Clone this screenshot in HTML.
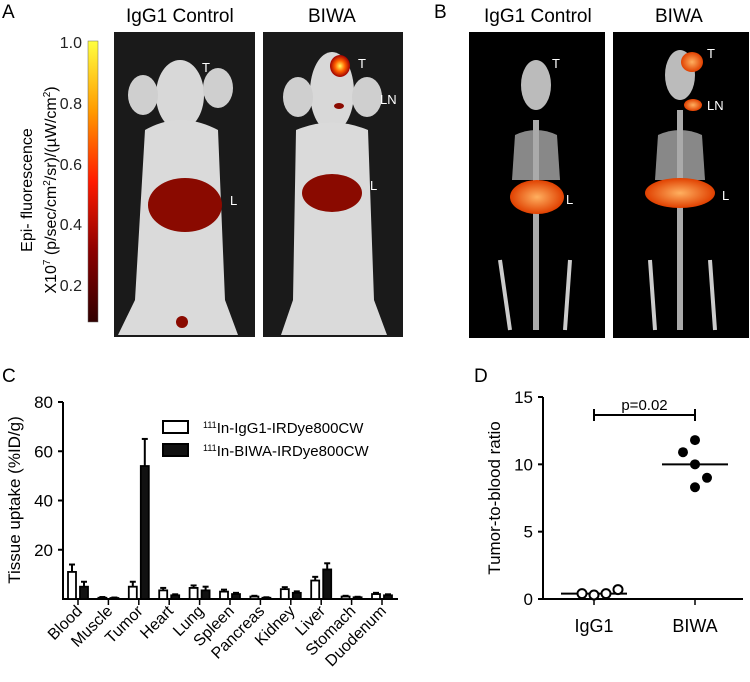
<!DOCTYPE html>
<html><head><meta charset="utf-8"><style>
body{margin:0;background:#fff;}
svg{display:block;font-family:"Liberation Sans",sans-serif;}
</style></head><body>
<svg width="750" height="682" viewBox="0 0 750 682">
<defs>
<linearGradient id="cb" x1="0" y1="0" x2="0" y2="1">
<stop offset="0" stop-color="#ffff40"/><stop offset="0.25" stop-color="#ff9a00"/><stop offset="0.5" stop-color="#ff1a00"/><stop offset="0.75" stop-color="#8a0000"/><stop offset="1" stop-color="#300000"/></linearGradient>
<radialGradient id="hot"><stop offset="0" stop-color="#ffff60"/><stop offset="0.5" stop-color="#ff6000"/><stop offset="1" stop-color="#a00000"/></radialGradient>
<radialGradient id="org"><stop offset="0" stop-color="#ffb060"/><stop offset="1" stop-color="#e04000"/></radialGradient>
</defs>
<!-- Panel A -->
<text x="2" y="18" font-size="19">A</text>
<text x="126" y="22" font-size="19">IgG1 Control</text>
<text x="308" y="22" font-size="19">BIWA</text>
<rect x="88" y="41" width="10" height="281" fill="url(#cb)" stroke="#666" stroke-width="0.5"/>
<g font-size="16" fill="#222" text-anchor="end">
<text x="82" y="48">1.0</text><text x="82" y="109">0.8</text><text x="82" y="170">0.6</text><text x="82" y="230">0.4</text><text x="82" y="291">0.2</text></g>
<text transform="translate(32,190) rotate(-90)" font-size="16" text-anchor="middle">Epi- fluorescence</text>
<text transform="translate(56,190) rotate(-90)" font-size="16" text-anchor="middle">X10<tspan font-size="10" dy="-6">7</tspan><tspan dy="6"> (p/sec/cm</tspan><tspan font-size="10" dy="-6">2</tspan><tspan dy="6">/sr)/(µW/cm</tspan><tspan font-size="10" dy="-6">2</tspan><tspan dy="6">)</tspan></text>
<g>
<rect x="114" y="32" width="141" height="305" fill="#1a1a1a"/>
<ellipse cx="180" cy="95" rx="24" ry="35" fill="#d8d8d8"/>
<ellipse cx="143" cy="95" rx="15" ry="20" fill="#cfcfcf"/><ellipse cx="218" cy="88" rx="15" ry="20" fill="#cfcfcf"/>
<path d="M145 130 Q180 110 218 130 L225 300 L238 335 L118 335 L135 300 Z" fill="#dadada"/>
<ellipse cx="185" cy="205" rx="37" ry="27" fill="#8a0a00"/>
<ellipse cx="182" cy="322" rx="6" ry="6" fill="#8a0a00"/>
<text x="202" y="72" font-size="13" fill="#fff">T</text><text x="230" y="205" font-size="13" fill="#fff">L</text></g>
<g>
<rect x="263" y="32" width="140" height="305" fill="#1a1a1a"/>
<ellipse cx="332" cy="92" rx="22" ry="40" fill="#d8d8d8"/>
<ellipse cx="298" cy="97" rx="15" ry="20" fill="#cfcfcf"/><ellipse cx="367" cy="97" rx="15" ry="20" fill="#cfcfcf"/>
<path d="M296 130 Q332 115 368 130 L374 300 L387 335 L281 335 L293 300 Z" fill="#dadada"/>
<ellipse cx="340" cy="66" rx="10" ry="11" fill="url(#hot)"/>
<ellipse cx="339" cy="106" rx="5" ry="3" fill="#8a0a00"/>
<ellipse cx="332" cy="193" rx="30" ry="19" fill="#8a0a00"/>
<text x="358" y="68" font-size="13" fill="#fff">T</text><text x="380" y="104" font-size="13" fill="#fff">LN</text><text x="370" y="190" font-size="13" fill="#fff">L</text></g>
<!-- Panel B -->
<text x="434" y="18" font-size="19">B</text>
<text x="484" y="22" font-size="19">IgG1 Control</text>
<text x="655" y="22" font-size="19">BIWA</text>
<g>
<rect x="469" y="32" width="136" height="306" fill="#000"/>
<ellipse cx="536" cy="85" rx="15" ry="25" fill="#bbb"/>
<path d="M515 135 Q536 125 557 135 L560 180 L512 180 Z" fill="#888"/>
<rect x="533" y="120" width="6" height="210" fill="#aaa"/>
<path d="M500 260 L510 330 M570 260 L565 330" stroke="#ccc" stroke-width="4"/>
<ellipse cx="537" cy="197" rx="27" ry="17" fill="url(#org)"/>
<text x="552" y="68" font-size="13" fill="#fff">T</text><text x="566" y="204" font-size="13" fill="#fff">L</text></g>
<g>
<rect x="613" y="32" width="136" height="306" fill="#000"/>
<ellipse cx="680" cy="75" rx="15" ry="25" fill="#bbb"/>
<path d="M658 135 Q680 125 702 135 L705 180 L655 180 Z" fill="#888"/>
<rect x="677" y="110" width="6" height="220" fill="#aaa"/>
<path d="M650 260 L655 330 M710 260 L715 330" stroke="#ccc" stroke-width="4"/>
<ellipse cx="692" cy="62" rx="11" ry="10" fill="url(#org)"/>
<ellipse cx="693" cy="105" rx="9" ry="6" fill="url(#org)"/>
<ellipse cx="680" cy="193" rx="35" ry="15" fill="url(#org)"/>
<text x="707" y="58" font-size="13" fill="#fff">T</text><text x="707" y="110" font-size="13" fill="#fff">LN</text><text x="722" y="200" font-size="13" fill="#fff">L</text></g>
<!-- Panel C -->
<text x="2" y="382" font-size="19">C</text>
<g id="chartC"></g>
<!-- Panel D -->
<text x="474" y="382" font-size="19">D</text>
<g id="chartD"></g>
</svg>
<script>
const organs=["Blood","Muscle","Tumor","Heart","Lung","Spleen","Pancreas","Kidney","Liver","Stomach","Duodenum"];
const iggVals=[11,0.5,5,3.5,4.5,3,1,4,7.5,1,2];
const iggErr=[3,0.3,2,1,1,0.8,0.3,0.8,1.5,0.3,0.5];
const biwaVals=[5,0.4,54,1.5,3.5,2,0.5,2.5,12,0.7,1.5];
const biwaErr=[2,0.2,11,0.4,1.5,0.5,0.2,0.6,2.5,0.2,0.4];
const cTicks=[20,40,60,80];
const dGroups=["IgG1","BIWA"];
const dIgg=[0.4,0.3,0.4,0.7];
const dBiwa=[10.9,11.8,10,9,8.3];
const dMedians=[0.4,10];
const dTicks=[0,5,10,15];
const NS="http://www.w3.org/2000/svg";
function mk(p,t,a,txt){const e=document.createElementNS(NS,t);for(const k in a)e.setAttribute(k,a[k]);if(txt!==undefined)e.textContent=txt;p.appendChild(e);return e;}
// C
const C=document.getElementById('chartC');
const cy=v=>599-v*(197/80), cx=i=>78+i*30.4;
let e=mk(C,'path',{d:'M63 402 L63 599 L398 599',fill:'none',stroke:'#000','stroke-width':2});

cTicks.forEach(t=>{mk(C,'line',{x1:58,x2:63,y1:cy(t),y2:cy(t),stroke:'#000','stroke-width':2});
 const l=mk(C,'text',{x:53,y:cy(t)+6,'font-size':17,'text-anchor':'end'},t);
 });
e=mk(C,'text',{transform:'translate(20,500) rotate(-90)','font-size':17,'text-anchor':'middle'},'Tissue uptake (%ID/g)');

organs.forEach((o,i)=>{const x=cx(i);
 mk(C,'line',{x1:x,x2:x,y1:599,y2:605,stroke:'#000','stroke-width':1.5});
 const l=mk(C,'text',{transform:`translate(${x+5},${612}) rotate(-45)`,'font-size':16,'text-anchor':'end'},o);
 
 [[iggVals,iggErr,x-10,'#fff'],[biwaVals,biwaErr,x+2,'#111']].forEach(([v,er,bx,f])=>{
  mk(C,'line',{x1:bx+4,x2:bx+4,y1:cy(v[i]),y2:cy(v[i]+er[i]),stroke:'#000','stroke-width':2});
  mk(C,'line',{x1:bx+1,x2:bx+7,y1:cy(v[i]+er[i]),y2:cy(v[i]+er[i]),stroke:'#000','stroke-width':2});
  const b=mk(C,'rect',{x:bx,y:cy(v[i]),width:8,height:599-cy(v[i]),fill:f,stroke:'#000','stroke-width':1.8});
  });
});
e=mk(C,'rect',{x:163,y:421,width:25,height:12,fill:'#fff',stroke:'#000','stroke-width':2});

e=mk(C,'rect',{x:163,y:444,width:25,height:12,fill:'#111',stroke:'#000','stroke-width':2});

e=mk(C,'text',{x:203,y:433,'font-size':15});e.innerHTML='<tspan font-size="9" dy="-5">111</tspan><tspan dy="5">In-IgG1-IRDye800CW</tspan>';

e=mk(C,'text',{x:203,y:456,'font-size':15});e.innerHTML='<tspan font-size="9" dy="-5">111</tspan><tspan dy="5">In-BIWA-IRDye800CW</tspan>';

// D
const D=document.getElementById('chartD');
const dy=v=>599-v*(202/15), gx=[594,695];
e=mk(D,'path',{d:'M543 397 L543 599 L743 599',fill:'none',stroke:'#000','stroke-width':2});

dTicks.forEach(t=>{mk(D,'line',{x1:538,x2:543,y1:dy(t),y2:dy(t),stroke:'#000','stroke-width':2});
 const l=mk(D,'text',{x:533,y:dy(t)+6,'font-size':17,'text-anchor':'end'},t);
 });
e=mk(D,'text',{transform:'translate(500,498) rotate(-90)','font-size':17,'text-anchor':'middle'},'Tumor-to-blood ratio');

dGroups.forEach((g,i)=>{mk(D,'line',{x1:gx[i],x2:gx[i],y1:599,y2:605,stroke:'#000','stroke-width':1.5});
 const l=mk(D,'text',{x:gx[i],y:632,'font-size':18,'text-anchor':'middle'},g);
 
 const m=mk(D,'line',{x1:gx[i]-33,x2:gx[i]+33,y1:dy(dMedians[i]),y2:dy(dMedians[i]),stroke:'#000','stroke-width':2});
 });
const offI=[-12,0,12,24], offB=[-12,0,0,12,0];
dIgg.forEach((v,i)=>{const c=mk(D,'circle',{cx:gx[0]+offI[i],cy:dy(v),r:4.5,fill:'#fff',stroke:'#000','stroke-width':2});
 });
dBiwa.forEach((v,i)=>{const c=mk(D,'circle',{cx:gx[1]+offB[i],cy:dy(v),r:5,fill:'#000'});
 });
e=mk(D,'path',{d:`M${gx[0]} 409 L${gx[0]} 421 M${gx[0]} 415 L${gx[1]} 415 M${gx[1]} 409 L${gx[1]} 421`,stroke:'#000','stroke-width':2,fill:'none'});

e=mk(D,'text',{x:(gx[0]+gx[1])/2,y:410,'font-size':15,'text-anchor':'middle'},'p=0.02');

</script>
</body></html>
